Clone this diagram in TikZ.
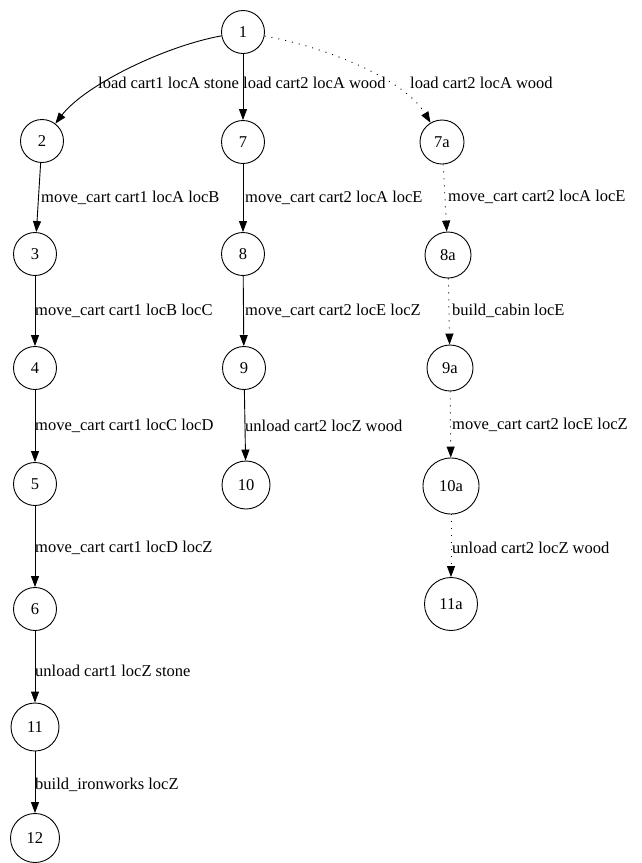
\documentclass[tikz,border=0pt]{standalone}
\usepackage{fontspec}
\setmainfont{Liberation Serif}
\usetikzlibrary{arrows.meta}
\tikzset{
  state/.style={draw, circle, line width=0.9pt, inner sep=0pt, font=\fontsize{16.5}{19}\selectfont},
  edge/.style={line width=0.9pt, -{Triangle[length=11pt,width=8pt]}},
  dotedge/.style={edge, dash pattern=on 1pt off 6pt},
  act/.style={anchor=west, inner sep=0pt, font=\fontsize{16.5}{19}\selectfont}
}
\begin{document}
\begin{tikzpicture}[x=1pt,y=-1pt]
\useasboundingbox (0,0) rectangle (642,863);

% states
\node[state, minimum size=43pt] (n1) at (243,32) {1};
\node[state, minimum size=43pt] (n2) at (42,141) {2};
\node[state, minimum size=43pt] (n7) at (243,142) {7};
\node[state, minimum size=44pt] (n7a) at (442,142) {7a};
\node[state, minimum size=46pt] (n8a) at (448,255) {8a};
\node[state, minimum size=43pt] (n3) at (35,254) {3};
\node[state, minimum size=43pt] (n8) at (243,254) {8};
\node[state, minimum size=43pt] (n4) at (35,368) {4};
\node[state, minimum size=43pt] (n9) at (244,368) {9};
\node[state, minimum size=46pt] (n9a) at (450,368) {9a};
\node[state, minimum size=43pt] (n5) at (35,484) {5};
\node[state, minimum size=48pt] (n10) at (246,485) {10};
\node[state, minimum size=56pt] (n10a) at (451,486) {10a};
\node[state, minimum size=43pt] (n6) at (35,609) {6};
\node[state, minimum size=53pt] (n11a) at (451,604) {11a};
\node[state, minimum size=48pt] (n11) at (35,727) {11};
\node[state, minimum size=49pt] (n12) at (35,838) {12};

% transitions
\draw[edge] (n1) .. controls (165,46) and (85,85) .. (n2);
\draw[edge] (n1) -- (n7);
\draw[dotedge] (n1) .. controls (330,48) and (405,80) .. (n7a);
\draw[edge] (n2) -- (n3);
\draw[edge] (n3) -- (n4);
\draw[edge] (n4) -- (n5);
\draw[edge] (n5) -- (n6);
\draw[edge] (n6) -- (n11);
\draw[edge] (n11) -- (n12);
\draw[edge] (n7) -- (n8);
\draw[edge] (n8) -- (n9);
\draw[edge] (n9) -- (n10);
\draw[dotedge] (n7a) -- (n8a);
\draw[dotedge] (n8a) -- (n9a);
\draw[dotedge] (n9a) -- (n10a);
\draw[dotedge] (n10a) -- (n11a);

% actions
\node[act] (a12) at (98,83) {load cart1 locA stone};
\node[act] (a17) at (243,83) {load cart2 locA wood};
\node[act] (a17a) at (410,83) {load cart2 locA wood};
\node[act] (a23) at (41,198) {move\_cart cart1 locA locB};
\node[act] (a34) at (35,311) {move\_cart cart1 locB locC};
\node[act] (a45) at (35,426) {move\_cart cart1 locC locD};
\node[act] (a56) at (35,548) {move\_cart cart1 locD locZ};
\node[act] (a611) at (35,671) {unload cart1 locZ stone};
\node[act] (a1112) at (35,785) {build\_ironworks locZ};
\node[act] (a78) at (245,198) {move\_cart cart2 locA locE};
\node[act] (a89) at (245,311) {move\_cart cart2 locE locZ};
\node[act] (a910) at (245,426) {unload cart2 locZ wood};
\node[act] (a78a) at (448,197) {move\_cart cart2 locA locE};
\node[act] (a89a) at (452,311) {build\_cabin locE};
\node[act] (a910a) at (452,425) {move\_cart cart2 locE locZ};
\node[act] (a1011a) at (452,548) {unload cart2 locZ wood};
\end{tikzpicture}
\end{document}
